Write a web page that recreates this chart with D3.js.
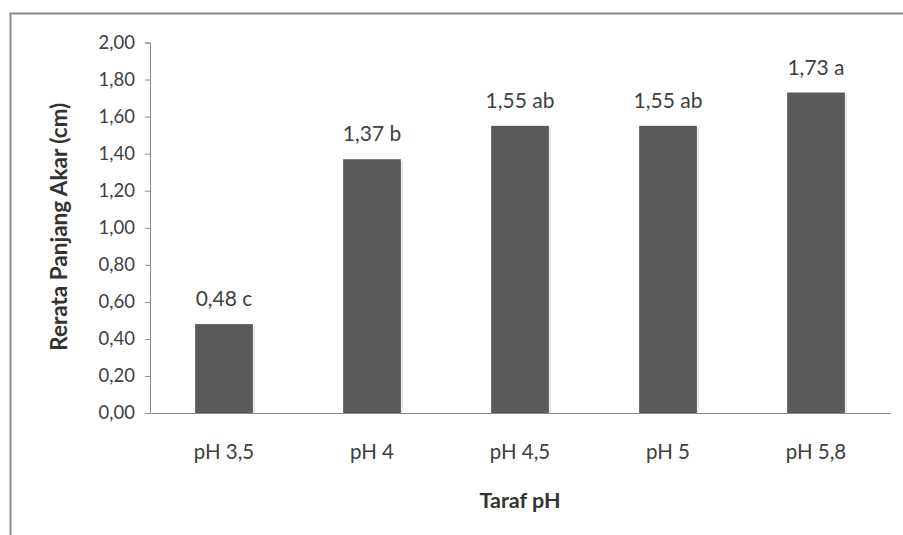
<!DOCTYPE html>
<html>
<head>
<meta charset="utf-8">
<script src="https://cdn.jsdelivr.net/npm/d3@7/dist/d3.min.js"></script>
<style>
html,body{margin:0;padding:0;background:#fff;}
svg{display:block;}
text{font-family:"Lato","Liberation Sans",sans-serif;}
</style>
</head>
<body>
<svg id="chart" width="903" height="535"></svg>
<script>
const categories = ["pH 3,5", "pH 4", "pH 4,5", "pH 5", "pH 5,8"];
const values = [0.48, 1.37, 1.55, 1.55, 1.73];
const letters = ["c", "b", "ab", "ab", "a"];
const yTicks = [0, 0.2, 0.4, 0.6, 0.8, 1.0, 1.2, 1.4, 1.6, 1.8, 2.0];
const yTitle = "Rerata Panjang Akar (cm)";
const xTitle = "Taraf pH";

(function () {
const svg = d3.select("#chart");
const W = 903, H = 535;
const mLeft = 150, mRight = 890, mTop = 42.5, mBottom = 413;

// outer border
svg.append("path")
  .attr("d", `M10.5,${H} L10.5,13.5 L${W},13.5`)
  .attr("fill", "none").attr("stroke", "#8a8a8a").attr("stroke-width", 2);

const x = d3.scaleBand().domain(categories).range([mLeft, mRight])
  .paddingInner(0.61).paddingOuter(0.305);
const y = d3.scaleLinear().domain([0, 2]).range([mBottom, mTop]);

const fmt = v => d3.format(".2f")(v).replace(".", ",");

// shadows
svg.append("g").selectAll("rect").data(values).join("rect")
  .attr("x", (d, i) => x(categories[i]) + 2)
  .attr("y", d => y(d) + 2)
  .attr("width", x.bandwidth())
  .attr("height", d => mBottom - y(d) - 2)
  .attr("fill", "#e6e6e6");

// bars
svg.append("g").selectAll("rect").data(values).join("rect")
  .attr("x", (d, i) => x(categories[i]))
  .attr("y", d => y(d))
  .attr("width", x.bandwidth())
  .attr("height", d => mBottom - y(d))
  .attr("fill", "#5a5a5a");

// y axis
const yAxis = svg.append("g").attr("transform", `translate(${mLeft},0)`)
  .call(d3.axisLeft(y).tickValues(yTicks).tickFormat(fmt).tickSize(5).tickPadding(10));
yAxis.select(".domain").attr("stroke", "#8a8a8a");
yAxis.selectAll(".tick line").attr("stroke", "#8a8a8a");
yAxis.selectAll(".tick text").attr("font-size", 18.5).attr("fill", "#404040")
  .attr("font-family", '"Lato","Liberation Sans",sans-serif');

// x axis
const xAxis = svg.append("g").attr("transform", `translate(0,${mBottom})`)
  .call(d3.axisBottom(x).tickSize(0).tickPadding(31));
xAxis.select(".domain").attr("stroke", "#8a8a8a");
xAxis.selectAll(".tick text").attr("font-size", 20.5).attr("fill", "#404040")
  .attr("font-family", '"Lato","Liberation Sans",sans-serif');

// value labels
svg.append("g").selectAll("text").data(values).join("text")
  .attr("x", (d, i) => x(categories[i]) + x.bandwidth() / 2)
  .attr("y", d => y(d) - 18)
  .attr("text-anchor", "middle")
  .attr("font-size", 21).attr("fill", "#404040")
  .text((d, i) => fmt(d) + " " + letters[i]);

// axis titles
svg.append("text")
  .attr("transform", `translate(67,${(mTop + mBottom) / 2 - 1}) rotate(-90)`)
  .attr("text-anchor", "middle")
  .attr("font-size", 22.5).attr("font-weight", "bold").attr("fill", "#333")
  .text(yTitle);

svg.append("text")
  .attr("x", (mLeft + mRight) / 2).attr("y", 508)
  .attr("text-anchor", "middle")
  .attr("font-size", 21.5).attr("font-weight", "bold").attr("fill", "#333")
  .text(xTitle);
})();
</script>
</body>
</html>
